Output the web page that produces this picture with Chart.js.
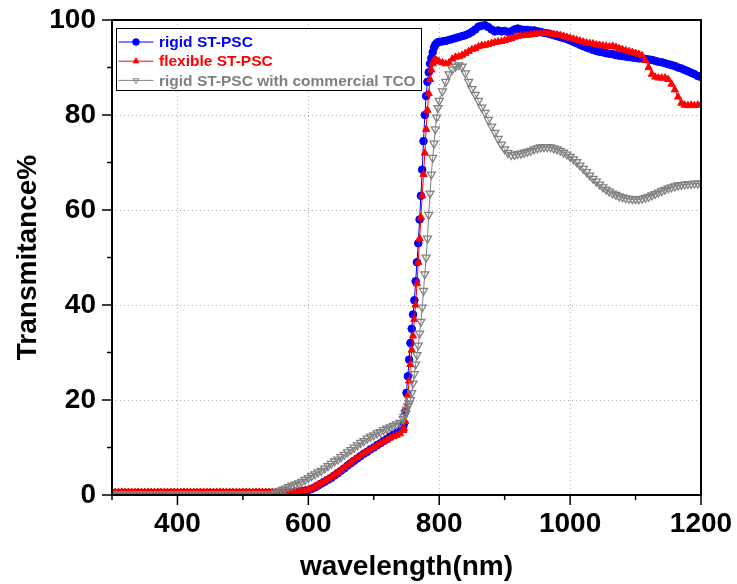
<!DOCTYPE html>
<html>
<head>
<meta charset="utf-8">
<title>Transmittance</title>
<script src="https://cdn.jsdelivr.net/npm/chart.js@4.4.1/dist/chart.umd.min.js"></script>
<style>
  html, body { margin: 0; padding: 0; background: #fff; }
  #wrap { width: 737px; height: 584px; }
</style>
</head>
<body>
<div id="wrap"><canvas id="transChart" width="737" height="584"></canvas></div>
<script>
// ==========================================
// Transmittance spectra of ST-PSC devices
// ==========================================

// wavelength (nm): 5 nm steps, 2 nm steps through the absorption edge
const wavelength = [
    300, 305, 310, 315, 320, 325, 330, 335, 340, 345,
    350, 355, 360, 365, 370, 375, 380, 385, 390, 395,
    400, 405, 410, 415, 420, 425, 430, 435, 440, 445,
    450, 455, 460, 465, 470, 475, 480, 485, 490, 495,
    500, 505, 510, 515, 520, 525, 530, 535, 540, 545,
    550, 555, 560, 565, 570, 575, 580, 585, 590, 595,
    600, 605, 610, 615, 620, 625, 630, 635, 640, 645,
    650, 655, 660, 665, 670, 675, 680, 685, 690, 695,
    700, 705, 710, 715, 720, 725, 730, 735, 740, 745,
    746, 748, 750, 752, 754, 756, 758, 760, 762, 764,
    766, 768, 770, 772, 774, 776, 778, 780, 782, 784,
    786, 788, 790, 792, 794, 796, 798, 800,
    805, 810, 815, 820, 825, 830, 835, 840, 845, 850,
    855, 860, 865, 870, 875, 880, 885, 890, 895, 900,
    905, 910, 915, 920, 925, 930, 935, 940, 945, 950,
    955, 960, 965, 970, 975, 980, 985, 990, 995, 1000,
    1005, 1010, 1015, 1020, 1025, 1030, 1035, 1040, 1045, 1050,
    1055, 1060, 1065, 1070, 1075, 1080, 1085, 1090, 1095, 1100,
    1105, 1110, 1115, 1120, 1125, 1130, 1135, 1140, 1145, 1150,
    1155, 1160, 1165, 1170, 1175, 1180, 1185, 1190, 1195, 1200
];

// rigid ST-PSC (%)
const rigidT = [
    0.4, 0.4, 0.4, 0.4, 0.4, 0.4, 0.4, 0.4, 0.4, 0.4,
    0.4, 0.4, 0.4, 0.4, 0.4, 0.4, 0.4, 0.4, 0.4, 0.4,
    0.4, 0.4, 0.4, 0.4, 0.4, 0.4, 0.4, 0.4, 0.4, 0.4,
    0.4, 0.4, 0.4, 0.4, 0.4, 0.4, 0.4, 0.4, 0.4, 0.4,
    0.4, 0.4, 0.4, 0.4, 0.4, 0.4, 0.4, 0.4, 0.4, 0.4,
    0.4, 0.4, 0.4, 0.4, 0.4, 0.5, 0.6, 0.7, 0.8, 0.9,
    1.0, 1.3, 1.6, 2.0, 2.4, 2.8, 3.2, 3.6, 4.1, 4.6,
    5.1, 5.6, 6.2, 6.7, 7.2, 7.7, 8.2, 8.7, 9.1, 9.6,
    10.0, 10.5, 10.9, 11.4, 11.8, 12.3, 12.7, 13.1, 13.6, 14.3,
    15.0, 17.5, 21.5, 25.0, 28.5, 32.0, 35.0, 38.0, 41.0, 45.0,
    49.0, 53.0, 58.0, 63.0, 68.5, 74.5, 80.0, 84.0, 87.0, 89.0,
    90.8, 92.0, 93.2, 94.2, 94.8, 95.1, 95.3, 95.4,
    95.5, 95.6, 95.8, 96.0, 96.2, 96.4, 96.6, 96.8, 97.1, 97.5,
    98.0, 98.6, 98.8, 98.9, 98.5, 98.0, 97.6, 97.8, 97.6, 97.7,
    97.5, 97.6, 98.0, 98.2, 98.0, 97.9, 97.9, 97.8, 97.8, 97.6,
    97.5, 97.3, 97.2, 97.0, 96.8, 96.6, 96.4, 96.2, 96.0, 95.7,
    95.4, 95.1, 94.8, 94.5, 94.2, 94.0, 93.7, 93.5, 93.3, 93.2,
    93.0, 92.9, 92.8, 92.6, 92.5, 92.4, 92.3, 92.2, 92.1, 92.0,
    91.9, 91.9, 91.8, 91.7, 91.6, 91.4, 91.2, 91.1, 90.9, 90.7,
    90.5, 90.3, 90.0, 89.8, 89.5, 89.2, 88.9, 88.6, 88.2, 88.0
];

// flexible ST-PSC (%)
const flexibleT = [
    0.6, 0.6, 0.6, 0.6, 0.6, 0.6, 0.6, 0.6, 0.6, 0.6,
    0.6, 0.6, 0.6, 0.6, 0.6, 0.6, 0.6, 0.6, 0.6, 0.6,
    0.6, 0.6, 0.6, 0.6, 0.6, 0.6, 0.6, 0.6, 0.6, 0.6,
    0.6, 0.6, 0.6, 0.6, 0.6, 0.6, 0.6, 0.6, 0.6, 0.6,
    0.6, 0.6, 0.6, 0.6, 0.6, 0.6, 0.6, 0.6, 0.6, 0.6,
    0.6, 0.6, 0.6, 0.6, 0.6, 0.6, 0.7, 0.8, 0.9, 1.0,
    1.1, 1.4, 1.8, 2.2, 2.6, 3.0, 3.4, 3.8, 4.3, 4.8,
    5.3, 5.8, 6.4, 6.9, 7.4, 7.9, 8.3, 8.8, 9.2, 9.6,
    10.0, 10.4, 10.8, 11.2, 11.6, 12.0, 12.3, 12.6, 12.9, 13.6,
    14.0, 15.5, 18.0, 21.0, 24.0, 27.5, 30.5, 33.5, 37.0, 40.0,
    44.5, 49.0, 54.0, 58.5, 63.0, 67.5, 72.0, 77.0, 81.0, 84.5,
    87.5, 89.5, 90.8, 91.4, 91.6, 91.5, 91.3, 91.2,
    91.0, 90.8, 91.0, 91.8, 92.2, 92.3, 92.6, 93.0, 93.4, 93.8,
    94.0, 94.4, 94.6, 94.7, 94.9, 95.1, 95.3, 95.4, 95.5, 95.7,
    95.9, 96.1, 96.4, 96.6, 96.7, 96.8, 96.8, 96.9, 97.0, 97.1,
    97.2, 97.2, 97.2, 97.1, 97.0, 96.9, 96.8, 96.6, 96.4, 96.2,
    96.0, 95.8, 95.6, 95.4, 95.2, 95.1, 95.0, 94.8, 94.7, 94.6,
    94.5, 94.4, 94.5, 94.3, 94.0, 93.8, 93.6, 93.4, 93.2, 93.0,
    92.8, 92.5, 91.5, 90.0, 88.6, 88.0, 87.8, 87.8, 87.8, 87.5,
    86.5, 85.3, 83.8, 82.5, 82.1, 82.0, 82.1, 82.0, 82.1, 82.2
];

// rigid ST-PSC with commercial TCO (%)
const commercialT = [
    0.2, 0.2, 0.2, 0.2, 0.2, 0.2, 0.2, 0.2, 0.2, 0.2,
    0.2, 0.2, 0.2, 0.2, 0.2, 0.2, 0.2, 0.2, 0.2, 0.2,
    0.2, 0.2, 0.2, 0.2, 0.2, 0.2, 0.2, 0.2, 0.2, 0.2,
    0.2, 0.2, 0.2, 0.2, 0.2, 0.2, 0.2, 0.2, 0.2, 0.2,
    0.2, 0.2, 0.2, 0.2, 0.2, 0.2, 0.2, 0.2, 0.2, 0.3,
    0.5, 0.8, 1.1, 1.4, 1.7, 2.0, 2.2, 2.5, 2.8, 3.2,
    3.6, 4.0, 4.4, 4.8, 5.1, 5.6, 6.1, 6.6, 7.1, 7.5,
    8.0, 8.5, 9.0, 9.5, 10.0, 10.5, 11.0, 11.4, 11.9, 12.3,
    12.6, 13.0, 13.3, 13.7, 14.0, 14.3, 14.6, 14.9, 15.2, 16.0,
    16.5, 17.2, 18.0, 18.7, 19.3, 20.0, 21.5, 23.5, 25.5, 27.5,
    29.5, 31.5, 34.0, 36.5, 39.5, 43.0, 46.5, 50.0, 54.0, 59.0,
    63.5, 67.5, 71.0, 74.0, 77.0, 79.5, 81.5, 83.0,
    85.0, 87.0, 88.6, 89.6, 90.2, 90.5, 90.2, 88.8, 87.0, 85.5,
    84.3, 83.0, 81.6, 80.5, 79.0, 77.6, 76.3, 75.0, 73.8, 72.8,
    72.0, 71.6, 71.6, 71.8, 71.9, 72.1, 72.3, 72.5, 72.8, 73.0,
    73.2, 73.3, 73.3, 73.2, 73.0, 72.8, 72.5, 72.1, 71.7, 71.2,
    70.7, 70.1, 69.4, 68.7, 68.0, 67.3, 66.6, 66.0, 65.4, 64.8,
    64.3, 63.9, 63.5, 63.2, 62.9, 62.7, 62.5, 62.4, 62.3, 62.3,
    62.3, 62.4, 62.6, 62.8, 63.1, 63.4, 63.7, 64.0, 64.3, 64.6,
    64.8, 65.0, 65.2, 65.3, 65.4, 65.5, 65.5, 65.6, 65.6, 65.6
];

const seriesLabels = ['rigid ST-PSC', 'flexible ST-PSC', 'rigid ST-PSC with commercial TCO'];

// axis ticks
const xMajorTicks = [400, 600, 800, 1000, 1200];
const xMinorTicks = [300, 500, 700, 900, 1100];
const yMajorTicks = [0, 20, 40, 60, 80, 100];
const yMinorTicks = [10, 30, 50, 70, 90];
const xGridLines = [400, 600, 800, 1000];
const yGridLines = [20, 40, 60, 80];

const FONT = "'Liberation Sans', Arial, Helvetica, sans-serif";

const colors = {
    rigid: '#0000ff',
    flexible: '#ff0000',
    commercial: '#808080',
    grid: '#b0b0b0',
    axis: '#000000'
};

const toPoints = (vals) => wavelength.map((w, i) => ({ x: w, y: vals[i] }));

// Grid, frame, tick marks and the boxed legend (Origin style)
const framePlugin = {
    id: 'frame',
    beforeDatasetsDraw(chart) {
        const { ctx, chartArea: a, scales: { x, y } } = chart;
        ctx.save();
        ctx.strokeStyle = colors.grid;
        ctx.lineWidth = 1;
        ctx.setLineDash([1, 3]);
        xGridLines.forEach(v => {
            const px = Math.round(x.getPixelForValue(v)) + 0.5;
            ctx.beginPath();
            ctx.moveTo(px, a.top);
            ctx.lineTo(px, a.bottom);
            ctx.stroke();
        });
        yGridLines.forEach(v => {
            const py = Math.round(y.getPixelForValue(v)) + 0.5;
            ctx.beginPath();
            ctx.moveTo(a.left, py);
            ctx.lineTo(a.right, py);
            ctx.stroke();
        });
        ctx.restore();
    },
    afterDatasetsDraw(chart) {
        const { ctx, chartArea: a, scales: { x, y } } = chart;
        ctx.save();
        ctx.strokeStyle = colors.axis;
        ctx.lineWidth = 2;
        ctx.strokeRect(a.left, a.top, a.right - a.left, a.bottom - a.top);

        ctx.lineWidth = 1.5;
        const tickX = (v, len) => {
            const px = x.getPixelForValue(v);
            ctx.beginPath();
            ctx.moveTo(px, a.bottom);
            ctx.lineTo(px, a.bottom + len);
            ctx.stroke();
        };
        const tickY = (v, len) => {
            const py = y.getPixelForValue(v);
            ctx.beginPath();
            ctx.moveTo(a.left, py);
            ctx.lineTo(a.left - len, py);
            ctx.stroke();
        };
        xMajorTicks.forEach(v => tickX(v, 10));
        xMinorTicks.forEach(v => tickX(v, 5));
        yMajorTicks.forEach(v => tickY(v, 10));
        yMinorTicks.forEach(v => tickY(v, 5));
        ctx.restore();
    },
    afterDraw(chart) {
        const { ctx, chartArea: a } = chart;
        const box = { left: a.left + 4.5, top: a.top + 8.5, width: 305, height: 62 };
        ctx.save();
        ctx.fillStyle = '#ffffff';
        ctx.fillRect(box.left, box.top, box.width, box.height);
        ctx.strokeStyle = '#000000';
        ctx.lineWidth = 1;
        ctx.strokeRect(box.left, box.top, box.width, box.height);

        ctx.font = "bold 15.5px " + FONT;
        ctx.textBaseline = 'middle';
        ctx.textAlign = 'left';
        chart.data.datasets.forEach((ds, i) => {
            const cy = box.top + 13.5 + i * 19.2;
            ctx.strokeStyle = ds.borderColor;
            ctx.lineWidth = 1;
            ctx.beginPath();
            ctx.moveTo(box.left + 2, cy);
            ctx.lineTo(box.left + 37, cy);
            ctx.stroke();
            ctx.fillStyle = ds.pointBackgroundColor;
            ctx.strokeStyle = ds.pointBorderColor;
            Chart.helpers.drawPoint(ctx, {
                pointStyle: ds.pointStyle,
                rotation: ds.pointRotation || 0,
                radius: 3.3,
                borderWidth: ds.pointBorderWidth
            }, box.left + 19.5, cy);
            ctx.fillStyle = ds.borderColor;
            ctx.fillText(ds.label, box.left + 42.5, cy + 1);
        });
        ctx.restore();
    }
};

new Chart(document.getElementById('transChart'), {
    type: 'line',
    data: {
        datasets: [{
            label: seriesLabels[0],
            data: toPoints(rigidT),
            borderColor: colors.rigid,
            borderWidth: 1,
            pointStyle: 'circle',
            pointRadius: 3.8,
            pointBackgroundColor: colors.rigid,
            pointBorderColor: colors.rigid,
            pointBorderWidth: 1,
            order: 3
        }, {
            label: seriesLabels[1],
            data: toPoints(flexibleT),
            borderColor: colors.flexible,
            borderWidth: 1,
            pointStyle: 'triangle',
            pointRadius: 4.2,
            pointBackgroundColor: colors.flexible,
            pointBorderColor: colors.flexible,
            pointBorderWidth: 1,
            order: 2
        }, {
            label: seriesLabels[2],
            data: toPoints(commercialT),
            borderColor: colors.commercial,
            borderWidth: 1,
            pointStyle: 'triangle',
            pointRotation: 180,
            pointRadius: 4.6,
            pointBackgroundColor: 'rgba(255,255,255,0)',
            pointBorderColor: colors.commercial,
            pointBorderWidth: 1.3,
            order: 1
        }]
    },
    options: {
        responsive: false,
        animation: false,
        devicePixelRatio: 1,
        layout: { autoPadding: false, padding: { top: 20, right: 36, bottom: 0, left: 0 } },
        plugins: {
            legend: { display: false },
            tooltip: { enabled: false }
        },
        scales: {
            x: {
                type: 'linear',
                min: 300,
                max: 1200,
                grid: { display: false, drawTicks: false },
                border: { display: false },
                ticks: {
                    stepSize: 100,
                    autoSkip: false,
                    maxRotation: 0,
                    padding: 12,
                    color: '#000',
                    font: { family: FONT, size: 28, weight: 'bold' },
                    callback: (v) => (xMajorTicks.includes(v) ? String(v) : '')
                },
                title: {
                    display: true,
                    text: 'wavelength(nm)',
                    color: '#000',
                    font: { family: FONT, size: 28, weight: 'bold' },
                    padding: { top: 0, bottom: 0 }
                },
                afterFit: (scale) => {
                    scale.height = 89;
                    scale.paddingLeft = 0;
                    scale.paddingRight = 0;
                }
            },
            y: {
                min: 0,
                max: 100,
                grid: { display: false, drawTicks: false },
                border: { display: false },
                ticks: {
                    stepSize: 10,
                    autoSkip: false,
                    padding: 16,
                    color: '#000',
                    font: { family: FONT, size: 28, weight: 'bold' },
                    callback: (v) => (yMajorTicks.includes(v) ? String(v) : '')
                },
                title: {
                    display: true,
                    text: 'Transmitance%',
                    color: '#000',
                    font: { family: FONT, size: 28, weight: 'bold' },
                    padding: { top: 11, bottom: 0 }
                },
                afterFit: (scale) => {
                    scale.width = 112;
                    scale.paddingTop = 0;
                    scale.paddingBottom = 0;
                }
            }
        }
    },
    plugins: [framePlugin]
});
</script>
</body>
</html>
